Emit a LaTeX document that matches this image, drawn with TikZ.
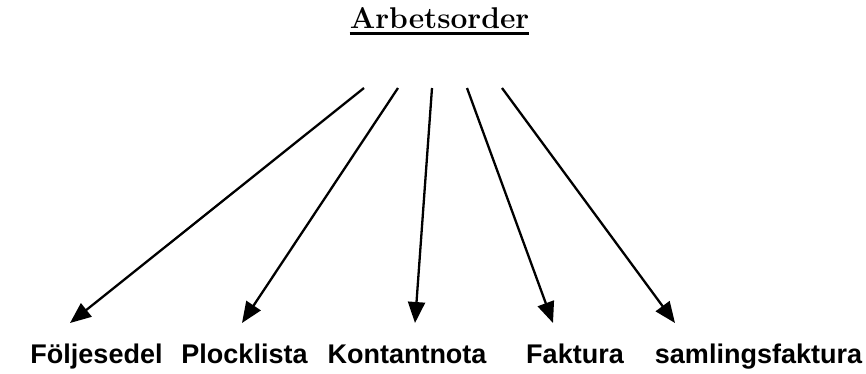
\documentclass[tikz,border=0pt]{standalone}
\usepackage{fontspec}
\newfontfamily\labelfont{Liberation Sans}
\usetikzlibrary{arrows.meta}
\begin{document}
\begin{tikzpicture}[x=1pt,y=-1pt,
  conn/.style={line width=2.3pt,-{Triangle[length=21pt,width=17pt]}},
  lbl/.style={inner sep=0pt,anchor=base,font=\labelfont\fontsize{27}{30}\selectfont\bfseries},
  ttl/.style={inner sep=0pt,anchor=base,font=\bfseries\fontsize{30}{34}\selectfont}]
\useasboundingbox (0,0) rectangle (866,373);
\node[ttl] (t) at (439.5,28) {Arbetsorder};
\draw[line width=2.2pt] ([yshift=-5.5pt]t.base west) -- ([yshift=-5.5pt]t.base east);
\coordinate (s1) at (364,88);
\coordinate (s2) at (398,88);
\coordinate (s3) at (432,88);
\coordinate (s4) at (467,88);
\coordinate (s5) at (502,88);
\coordinate (e1) at (70,323);
\coordinate (e2) at (242,323);
\coordinate (e3) at (415,323);
\coordinate (e4) at (553,323);
\coordinate (e5) at (675,323);
\node[lbl] (l1) at (96.5,363) {Följesedel};
\node[lbl] (l2) at (244.5,363) {Plocklista};
\node[lbl] (l3) at (407,363) {Kontantnota};
\node[lbl] (l4) at (575,363) {Faktura};
\node[lbl] (l5) at (758.5,363) {samlingsfaktura};
\foreach \i in {1,...,5} \draw[conn] (s\i) -- (e\i);
\end{tikzpicture}
\end{document}
